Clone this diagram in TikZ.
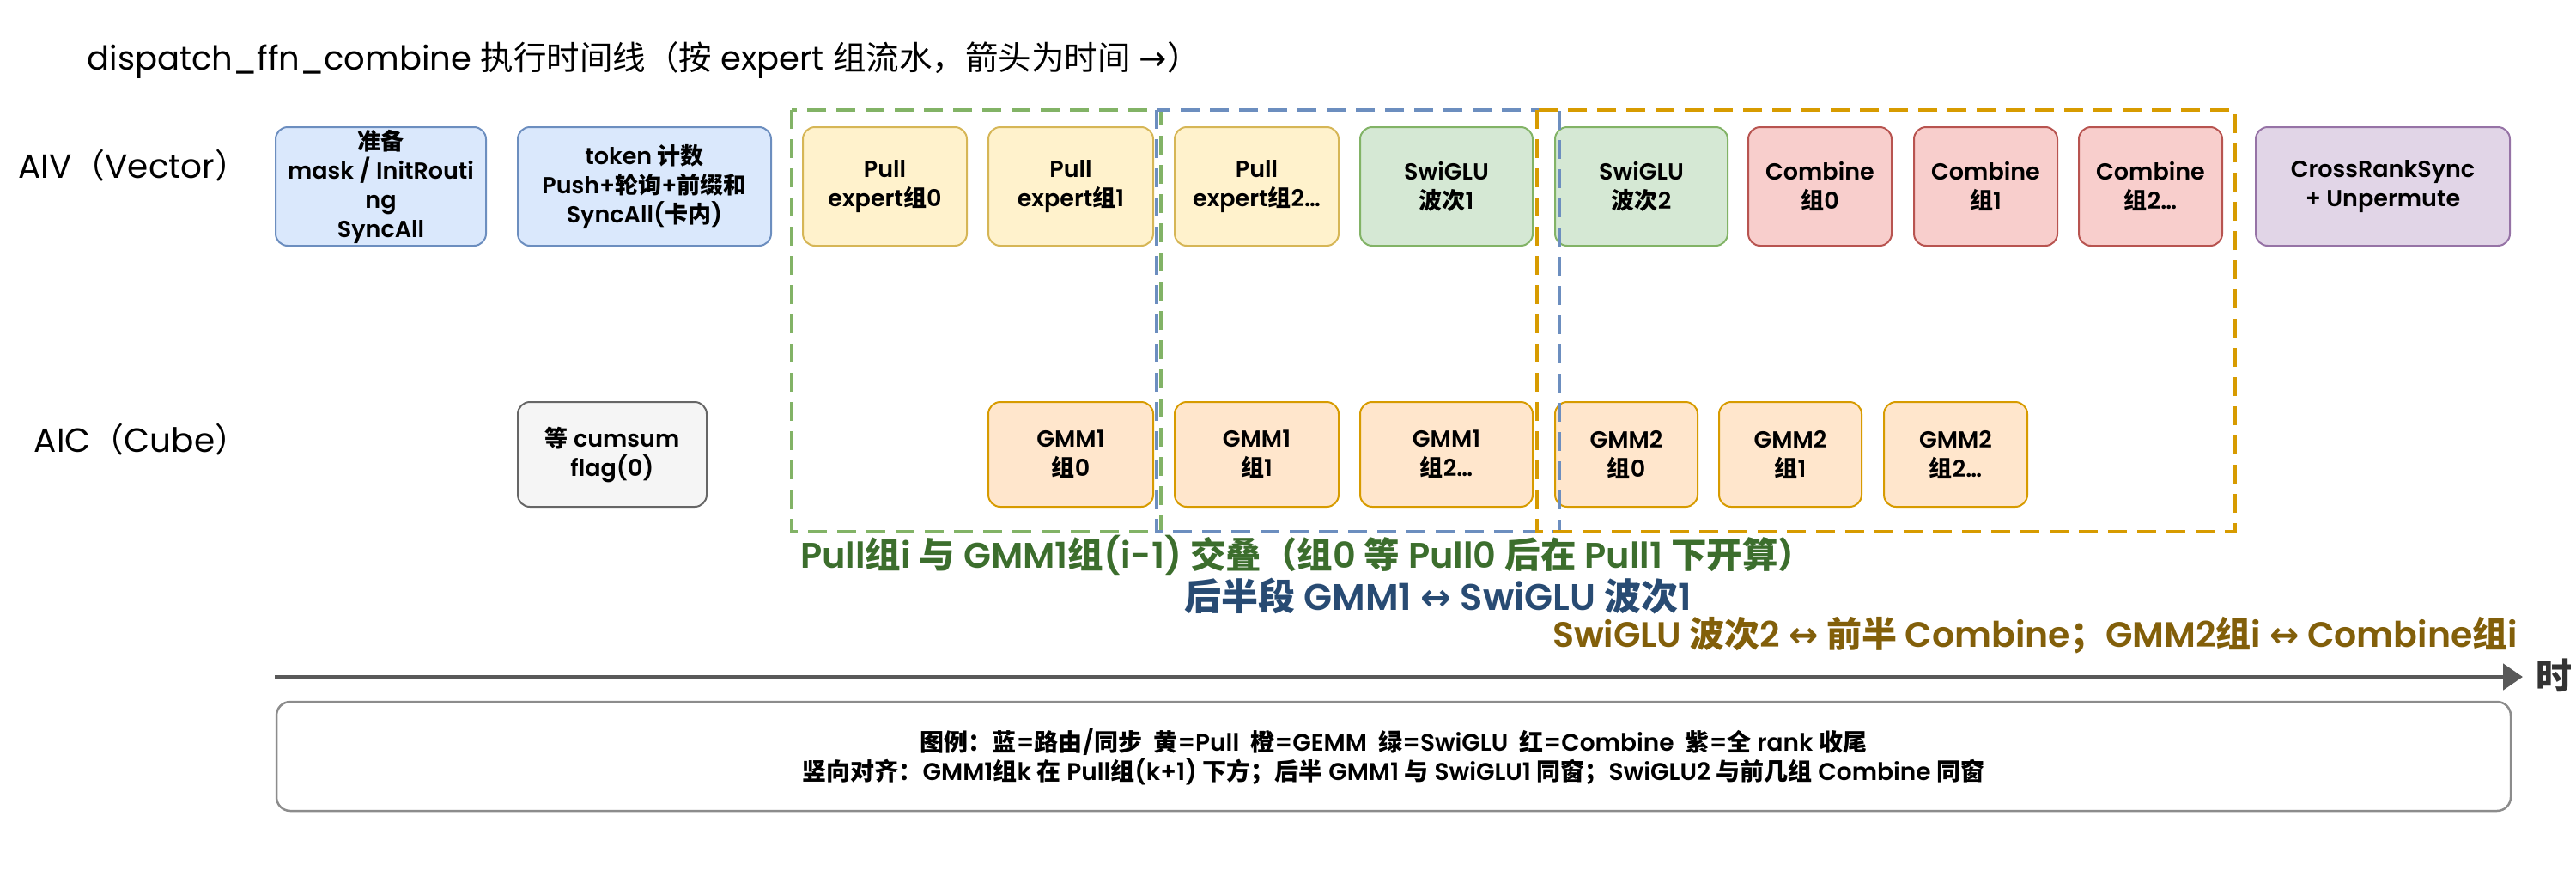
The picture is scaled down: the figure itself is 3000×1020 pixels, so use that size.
\documentclass[tikz,border=0pt]{standalone}
\usepackage{fontspec}
\usetikzlibrary{arrows.meta}
\setmainfont{Poppins}[BoldFont={Poppins SemiBold}]
\newfontfamily\cjk{Noto Sans CJK SC}
\newfontfamily\arr{DejaVu Sans}
\XeTeXinterchartokenstate=1
\newXeTeXintercharclass\CJKcls
\newcount\cjkc
\def\setcjkrange#1#2{\cjkc=#1\relax\loop\XeTeXcharclass\cjkc=\CJKcls\relax\ifnum\cjkc<#2\advance\cjkc by 1\repeat}
\setcjkrange{"3000}{"303F}
\setcjkrange{"4E00}{"9FFF}
\setcjkrange{"FF00}{"FFEF}
\XeTeXinterchartoks 0 \CJKcls = {\cjk}
\XeTeXinterchartoks 4095 \CJKcls = {\cjk}
\XeTeXinterchartoks \CJKcls 0 = {\rmfamily}
\XeTeXinterchartoks \CJKcls 4095 = {\rmfamily}
\definecolor{bfill}{HTML}{DAE8FC}\definecolor{bline}{HTML}{6C8EBF}
\definecolor{yfill}{HTML}{FFF2CC}\definecolor{yline}{HTML}{D6B656}
\definecolor{gfill}{HTML}{D5E8D4}\definecolor{gline}{HTML}{82B366}
\definecolor{rfill}{HTML}{F8CECC}\definecolor{rline}{HTML}{B85450}
\definecolor{pfill}{HTML}{E1D5E7}\definecolor{pline}{HTML}{9673A6}
\definecolor{ofill}{HTML}{FFE6CC}\definecolor{oline}{HTML}{D79B00}
\definecolor{kfill}{HTML}{F5F5F5}\definecolor{kline}{HTML}{666666}
\definecolor{legline}{HTML}{8C8C8C}
\definecolor{anngreen}{HTML}{3C6E2D}
\definecolor{annblue}{HTML}{284B73}
\definecolor{annbrown}{HTML}{825F0A}
\definecolor{timegray}{HTML}{595959}
\definecolor{shigray}{HTML}{333333}
\begin{document}
\begin{tikzpicture}[x=1pt,y=-1pt,
  box/.style={draw, rounded corners=14pt, line width=2pt, align=center, inner sep=0pt,
    font=\fontsize{27}{34}\selectfont\bfseries, text=black},
  topbox/.style={box, minimum height=138pt},
  botbox/.style={box, minimum height=122pt},
  routebox/.style={fill=bfill, draw=bline},
  pullbox/.style={fill=yfill, draw=yline},
  swibox/.style={fill=gfill, draw=gline},
  combbox/.style={fill=rfill, draw=rline},
  syncbox/.style={fill=pfill, draw=pline},
  gemmbox/.style={fill=ofill, draw=oline},
  waitbox/.style={fill=kfill, draw=kline},
  grpframe/.style={line width=4pt, dash pattern=on 22pt off 12pt},
  rowlabel/.style={anchor=east, font=\fontsize{39}{44}\selectfont, text=black},
  annot/.style={anchor=west, inner sep=0pt},
]
\useasboundingbox (0,0) rectangle (3000,1020);

\node[anchor=west, font=\fontsize{38.5}{46}\selectfont, text=black] (title) at (98,70)
  {dispatch\_ffn\_combine 执行时间线（按 expert 组流水，箭头为时间 {\arr →}）};

\node[rowlabel] (aiv) at (293,193) {AIV（Vector）};
\node[rowlabel] (aic) at (293,512) {AIC（Cube）};

% AIV row
\node[topbox, routebox, minimum width=245pt] (prep) at (443.5,217) {准备\\mask / InitRouti\\ng\\SyncAll};
\node[topbox, routebox, minimum width=295pt] (tok) at (750.5,217) {token 计数\\Push+轮询+前缀和\\SyncAll(卡内)};
\node[topbox, pullbox, minimum width=191pt] (pull0) at (1030.5,217) {Pull\\expert组0};
\node[topbox, pullbox, minimum width=192pt] (pull1) at (1247,217) {Pull\\expert组1};
\node[topbox, pullbox, minimum width=191pt] (pull2) at (1463.5,217) {Pull\\expert组2…};
\node[topbox, swibox, minimum width=201pt] (swi1) at (1684.5,217) {SwiGLU\\波次1};
\node[topbox, swibox, minimum width=201pt] (swi2) at (1911.5,217) {SwiGLU\\波次2};
\node[topbox, combbox, minimum width=167pt] (comb0) at (2119.5,217) {Combine\\组0};
\node[topbox, combbox, minimum width=167pt] (comb1) at (2312.5,217) {Combine\\组1};
\node[topbox, combbox, minimum width=167pt] (comb2) at (2504.5,217) {Combine\\组2…};
\node[topbox, syncbox, minimum width=296pt] (sync) at (2775,217) {CrossRankSync\\+ Unpermute};

% AIC row
\node[botbox, waitbox, minimum width=220pt] (wait) at (713,529) {等 cumsum\\flag(0)};
\node[botbox, gemmbox, minimum width=192pt] (ga0) at (1247,529) {GMM1\\组0};
\node[botbox, gemmbox, minimum width=191pt] (ga1) at (1463.5,529) {GMM1\\组1};
\node[botbox, gemmbox, minimum width=201pt] (ga2) at (1684.5,529) {GMM1\\组2…};
\node[botbox, gemmbox, minimum width=166pt] (gb0) at (1894,529) {GMM2\\组0};
\node[botbox, gemmbox, minimum width=166pt] (gb1) at (2085,529) {GMM2\\组1};
\node[botbox, gemmbox, minimum width=167pt] (gb2) at (2277.5,529) {GMM2\\组2…};

% overlap windows
\draw[grpframe, draw=gline] (922,128) rectangle (1352,619);
\draw[grpframe, draw=bline] (1347,128) rectangle (1816,619);
\draw[grpframe, draw=oline] (1790,128) rectangle (2603,619);

% annotations
\node[annot, text=anngreen, font=\fontsize{41.5}{48}\selectfont\bfseries] (ann1) at (932,646) {Pull组i 与 GMM1组(i-1) 交叠（组0 等 Pull0 后在 Pull1 下开算）};
\node[annot, text=annblue, font=\fontsize{43}{48}\selectfont\bfseries] (ann2) at (1379,694) {后半段 GMM1 {\arr ↔} SwiGLU 波次1};
\node[annot, text=annbrown, font=\fontsize{41}{48}\selectfont\bfseries] (ann3) at (1808,740) {SwiGLU 波次2 {\arr ↔} 前半 Combine；GMM2组i {\arr ↔} Combine组i};

% time axis
\coordinate (tstart) at (320,788);
\coordinate (tend) at (2938,788);
\draw[line width=5pt, draw=timegray, -{Triangle[length=23pt,width=30pt]}] (tstart) -- (tend);
\node[anchor=west, font=\fontsize{42}{46}\selectfont\bfseries, text=shigray, inner sep=0pt] (shi) at (2953,786) {时};

% legend
\node[draw=legline, line width=2.5pt, fill=white, rounded corners=16pt, minimum width=2602pt, minimum height=127pt,
  align=center, inner sep=0pt, font=\fontsize{28}{34}\selectfont\bfseries, text=black] (legend) at (1623,880.5)
  {图例：蓝=路由/同步\ \ 黄=Pull\ \ 橙=GEMM\ \ 绿=SwiGLU\ \ 红=Combine\ \ 紫=全 rank 收尾\\
   竖向对齐：GMM1组k 在 Pull组(k+1) 下方；后半 GMM1 与 SwiGLU1 同窗；SwiGLU2 与前几组 Combine 同窗};
\end{tikzpicture}
\end{document}
